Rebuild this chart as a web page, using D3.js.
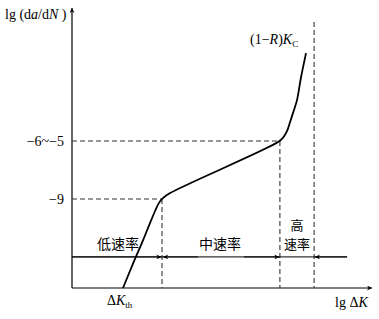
<!DOCTYPE html>
<html>
<head>
<meta charset="utf-8">
<script src="https://cdn.jsdelivr.net/npm/d3@7"></script>
<style>
  body { margin: 0; background: #fff; }
  text { font-family: "Liberation Serif", "DejaVu Serif", serif; fill: #000; }
  .cn { font-family: "Noto Sans CJK SC", sans-serif; }
</style>
</head>
<body>
<svg id="chart"></svg>
<script>
// 曲线数据 (抽象坐标 0~100)
const curveX = [17.0, 20.3, 23.7, 26.0, 27.7, 29.0, 30.3, 32.7, 68.7, 70.3, 71.7, 72.7, 74.0, 75.0, 76.3, 78.0];
const curveY = [0, 8.6, 17.1, 23.2, 27.5, 30.4, 32.1, 33.9, 52.1, 53.6, 56.1, 59.3, 63.6, 67.1, 75.0, 83.9];

// 纵轴刻度
const yTickValues = [31.8, 52.5];
const yTickLabels = ["−9", "−6~−5"];

// 区域分界 (横坐标)
const bounds = [30, 69.3, 80.7];
const zoneNames = ["低速率", "中速率", "高速率"];
const arrowRowY = 11.1;
const topDashY = 95;

const width = 379, height = 319;
const margin = { top: 8, right: 7, bottom: 31, left: 72 };

const svg = d3.select("#chart").attr("width", width).attr("height", height);

const x = d3.scaleLinear().domain([0, 100]).range([margin.left, width - margin.right]);
const y = d3.scaleLinear().domain([0, 100]).range([height - margin.bottom, margin.top]);

// 箭头标记
const defs = svg.append("defs");
defs.append("marker")
  .attr("id", "arr")
  .attr("viewBox", "0 0 10 10")
  .attr("refX", 10).attr("refY", 5)
  .attr("markerWidth", 8).attr("markerHeight", 5)
  .attr("markerUnits", "userSpaceOnUse")
  .attr("orient", "auto-start-reverse")
  .append("path").attr("d", "M0,0 L10,5 L0,10 L3,5 Z").attr("fill", "#000");

// 坐标轴
svg.append("line")
  .attr("x1", x(0)).attr("y1", y(0)).attr("x2", x(0)).attr("y2", y(100))
  .attr("stroke", "#000").attr("stroke-width", 1.2).attr("marker-end", "url(#arr)");
svg.append("line")
  .attr("x1", x(0)).attr("y1", y(0)).attr("x2", x(100)).attr("y2", y(0))
  .attr("stroke", "#000").attr("stroke-width", 1.2).attr("marker-end", "url(#arr)");

// 虚线
const dashes = [
  [0, yTickValues[0], bounds[0], yTickValues[0]],
  [0, yTickValues[1], bounds[1], yTickValues[1]],
  [bounds[0], yTickValues[0], bounds[0], 0],
  [bounds[1], yTickValues[1], bounds[1], 0],
  [bounds[2], topDashY, bounds[2], 0]
];
svg.selectAll(".dash").data(dashes).enter().append("line")
  .attr("class", "dash")
  .attr("x1", d => x(d[0])).attr("y1", d => y(d[1]))
  .attr("x2", d => x(d[2])).attr("y2", d => y(d[3]))
  .attr("stroke", "#333").attr("stroke-width", 1.1).attr("stroke-dasharray", "5,3");

// 纵轴刻度文字
svg.selectAll(".ytick").data(yTickValues).enter().append("text")
  .attr("x", x(0) - 8).attr("y", d => y(d) + 5)
  .attr("text-anchor", "end").attr("font-size", 14)
  .text((d, i) => yTickLabels[i]);

// 区域箭头
const ay = y(arrowRowY);
svg.append("line").attr("x1", x(0)).attr("x2", x(91.7)).attr("y1", ay).attr("y2", ay)
  .attr("stroke", "#000").attr("stroke-width", 1);
const heads = [
  [0, bounds[0] - 0.2],
  [bounds[0] + 12, bounds[0] + 0.4],
  [bounds[1] - 12, bounds[1] - 0.2],
  [91.7, bounds[2] + 0.3]
];
svg.selectAll(".head").data(heads).enter().append("line")
  .attr("x1", d => x(d[0])).attr("x2", d => x(d[1])).attr("y1", ay).attr("y2", ay)
  .attr("stroke", "#000").attr("stroke-width", 1).attr("marker-end", "url(#arr)");

// 区域名称
svg.append("text").attr("class", "cn").attr("x", x(15.3)).attr("y", ay - 8)
  .attr("text-anchor", "middle").attr("font-size", 14).text(zoneNames[0]);
svg.append("text").attr("class", "cn").attr("x", x(49.3)).attr("y", ay - 8)
  .attr("text-anchor", "middle").attr("font-size", 14).text(zoneNames[1]);
svg.append("text").attr("class", "cn").attr("x", x(75.0)).attr("y", ay - 27)
  .attr("text-anchor", "middle").attr("font-size", 13).text(zoneNames[2].slice(0, 1));
svg.append("text").attr("class", "cn").attr("x", x(75.0)).attr("y", ay - 8)
  .attr("text-anchor", "middle").attr("font-size", 13).text(zoneNames[2].slice(1));

// 裂纹扩展曲线
const pts = curveX.map((v, i) => [v, curveY[i]]);
svg.append("path")
  .datum(pts)
  .attr("fill", "none").attr("stroke", "#000").attr("stroke-width", 1.8)
  .attr("d", d3.line().x(d => x(d[0])).y(d => y(d[1])).curve(d3.curveCatmullRom.alpha(0.5)));

// 轴标题
const yl = svg.append("text").attr("x", 5).attr("y", 19).attr("font-size", 14);
yl.append("tspan").text("lg (d");
yl.append("tspan").attr("font-style", "italic").text("a");
yl.append("tspan").text("/d");
yl.append("tspan").attr("font-style", "italic").text("N");
yl.append("tspan").text(" )");

const xl = svg.append("text").attr("x", 335).attr("y", 307).attr("font-size", 14);
xl.append("tspan").text("lg Δ");
xl.append("tspan").attr("font-style", "italic").text("K");

const kth = svg.append("text").attr("x", 107).attr("y", 305).attr("font-size", 14);
kth.append("tspan").text("Δ");
kth.append("tspan").attr("font-style", "italic").text("K");
kth.append("tspan").attr("font-size", 9).attr("dy", 3).text("th");

const kc = svg.append("text").attr("x", 250).attr("y", 44).attr("font-size", 14);
kc.append("tspan").text("(1−");
kc.append("tspan").attr("font-style", "italic").text("R");
kc.append("tspan").text(")");
kc.append("tspan").attr("font-style", "italic").text("K");
kc.append("tspan").attr("font-size", 9).attr("dy", 3).text("C");
</script>
</body>
</html>
